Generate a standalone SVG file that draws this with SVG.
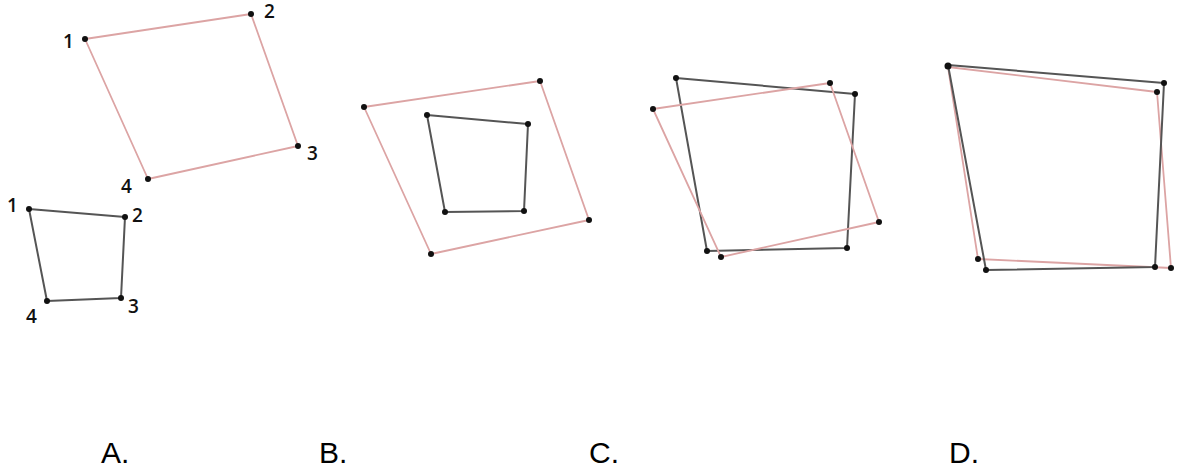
<svg xmlns="http://www.w3.org/2000/svg" width="1179" height="475" viewBox="0 0 1179 475">
<style>
.pink{fill:none;stroke:#dca4a4;stroke-width:1.8;stroke-linejoin:round}
.dark{fill:none;stroke:#555;stroke-width:2;stroke-linejoin:round}
.dot{fill:#111}
.num{font-family:"Open Sans","DejaVu Sans",sans-serif;font-size:19px;font-weight:600;fill:#111}
.lab{font-family:"Liberation Sans",Arial,sans-serif;font-size:30px;fill:#000}
</style>
<rect width="1179" height="475" fill="#fff"/>
<g id="connectors">
<polygon class="pink" points="85,39 251,14 298,146 148,179"/>
<polygon class="dark" points="29,209 125,217 121,298 47,301"/>
<polygon class="pink" points="364,107 540,81 589,220 431,254"/>
<polygon class="dark" points="427,115 528,124 524,211 445,212"/>
<polygon class="dark" points="676,78 855,94 847,248 707,251"/>
<polygon class="pink" points="653,109 830,83 879,222 721,257"/>
<polygon class="pink" points="948,67 1157,92 1171,268 978,259"/>
<polygon class="dark" points="948,65 1164,83 1155,267 986,270"/>
</g>
<g id="nodeA">
<circle class="dot" cx="85" cy="39" r="3"/><circle class="dot" cx="251" cy="14" r="3"/><circle class="dot" cx="298" cy="146" r="3"/><circle class="dot" cx="148" cy="179" r="3"/>
<circle class="dot" cx="29" cy="209" r="3"/><circle class="dot" cx="125" cy="217" r="3"/><circle class="dot" cx="121" cy="298" r="3"/><circle class="dot" cx="47" cy="301" r="3"/>
<text class="num" x="63" y="48">1</text><text class="num" x="264" y="18">2</text><text class="num" x="307" y="160">3</text><text class="num" x="121" y="193">4</text>
<text class="num" x="7" y="212">1</text><text class="num" x="132" y="222">2</text><text class="num" x="128" y="313">3</text><text class="num" x="26" y="323">4</text>
<text class="lab" x="101" y="463">A.</text>
</g>
<g id="nodeB">
<circle class="dot" cx="364" cy="107" r="3"/><circle class="dot" cx="540" cy="81" r="3"/><circle class="dot" cx="589" cy="220" r="3"/><circle class="dot" cx="431" cy="254" r="3"/>
<circle class="dot" cx="427" cy="115" r="3"/><circle class="dot" cx="528" cy="124" r="3"/><circle class="dot" cx="524" cy="211" r="3"/><circle class="dot" cx="445" cy="212" r="3"/>
<text class="lab" x="319" y="463">B.</text>
</g>
<g id="nodeC">
<circle class="dot" cx="676" cy="78" r="3"/><circle class="dot" cx="855" cy="94" r="3"/><circle class="dot" cx="847" cy="248" r="3"/><circle class="dot" cx="707" cy="251" r="3"/>
<circle class="dot" cx="653" cy="109" r="3"/><circle class="dot" cx="830" cy="83" r="3"/><circle class="dot" cx="879" cy="222" r="3"/><circle class="dot" cx="721" cy="257" r="3"/>
<text class="lab" x="589" y="463">C.</text>
</g>
<g id="nodeD">
<circle class="dot" cx="948" cy="66" r="3.5"/><circle class="dot" cx="1164" cy="83" r="3"/><circle class="dot" cx="1155" cy="267" r="3"/><circle class="dot" cx="986" cy="270" r="3"/>
<circle class="dot" cx="1157" cy="92" r="3"/><circle class="dot" cx="1171" cy="268" r="3"/><circle class="dot" cx="978" cy="259" r="3"/>
<text class="lab" x="949" y="463">D.</text>
</g>
</svg>
